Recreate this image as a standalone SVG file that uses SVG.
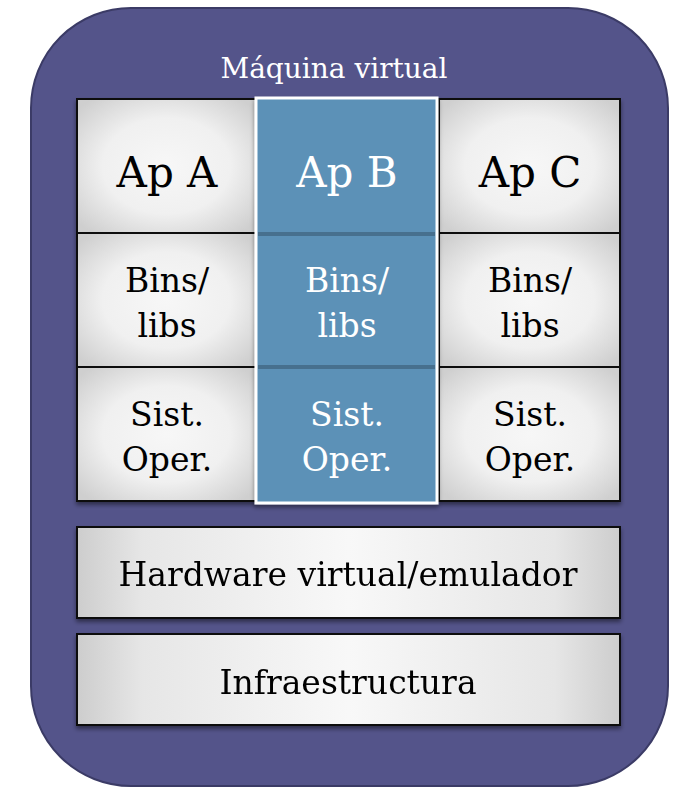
<svg xmlns="http://www.w3.org/2000/svg" width="677" height="789" viewBox="0 0 677 789">
<defs>
<radialGradient id="cellGrad" cx="50%" cy="50%" r="65%">
<stop offset="0" stop-color="#f7f7f7"/>
<stop offset="0.55" stop-color="#f0f0f0"/>
<stop offset="1" stop-color="#cfcfcf"/>
</radialGradient>
<linearGradient id="barGrad" x1="0" y1="0" x2="1" y2="0">
<stop offset="0" stop-color="#cdcdcd"/>
<stop offset="0.12" stop-color="#e6e6e6"/>
<stop offset="0.5" stop-color="#f8f8f8"/>
<stop offset="0.88" stop-color="#e6e6e6"/>
<stop offset="1" stop-color="#cdcdcd"/>
</linearGradient>
<filter id="sh" x="-10%" y="-10%" width="120%" height="130%">
<feDropShadow dx="0" dy="3" stdDeviation="2" flood-color="#000" flood-opacity="0.45"/>
</filter>
</defs>
<style>
.cell{fill:url(#cellGrad);stroke:#111;stroke-width:2}
.bar{fill:url(#barGrad);stroke:#111;stroke-width:2}
.bcell{fill:#5b91b7}
.sep{stroke:#46708e;stroke-width:4}
text{font-family:'DejaVu Serif','Liberation Serif',serif;text-anchor:middle;fill:#000}
.w{fill:#fff}
.big{font-size:42px}
.mid{font-size:33px}
</style>
<g id="vm">
<rect x="31" y="8" width="637" height="778" rx="100" ry="100" fill="#54548a" stroke="#3b3b66" stroke-width="2"/>
<text class="w" x="334" y="78" font-size="28">Máquina virtual</text>
</g>
<g id="colA" filter="url(#sh)">
<rect class="cell" x="77" y="99" width="179" height="134"/>
<rect class="cell" x="77" y="233" width="179" height="134"/>
<rect class="cell" x="77" y="367" width="179" height="134"/>
</g>
<g id="colC" filter="url(#sh)">
<rect class="cell" x="439" y="99" width="181" height="134"/>
<rect class="cell" x="439" y="233" width="181" height="134"/>
<rect class="cell" x="439" y="367" width="181" height="134"/>
</g>
<g id="colB" filter="url(#sh)">
<rect class="bcell" x="256" y="98" width="181" height="405" stroke="#fff" stroke-width="3"/>
<line class="sep" x1="258" y1="234" x2="435" y2="234"/>
<line class="sep" x1="258" y1="367" x2="435" y2="367"/>
</g>
<g id="apA"><text class="big" x="167" y="187">Ap A</text></g>
<g id="apB"><text class="w big" x="347" y="187">Ap B</text></g>
<g id="apC"><text class="big" x="530" y="187">Ap C</text></g>
<g id="binsA"><text class="mid" x="167" y="292">Bins/</text><text class="mid" x="167" y="337">libs</text></g>
<g id="binsB"><text class="w mid" x="347" y="292">Bins/</text><text class="w mid" x="347" y="337">libs</text></g>
<g id="binsC"><text class="mid" x="530" y="292">Bins/</text><text class="mid" x="530" y="337">libs</text></g>
<g id="soA"><text class="mid" x="167" y="426">Sist.</text><text class="mid" x="167" y="471">Oper.</text></g>
<g id="soB"><text class="w mid" x="347" y="426">Sist.</text><text class="w mid" x="347" y="471">Oper.</text></g>
<g id="soC"><text class="mid" x="530" y="426">Sist.</text><text class="mid" x="530" y="471">Oper.</text></g>
<g id="hw" filter="url(#sh)">
<rect class="bar" x="77" y="527" width="543" height="91"/>
<text class="mid" x="348" y="586">Hardware virtual/emulador</text>
</g>
<g id="infra" filter="url(#sh)">
<rect class="bar" x="77" y="634" width="543" height="91"/>
<text class="mid" x="348" y="694">Infraestructura</text>
</g>
<g id="connectors"/>
</svg>
